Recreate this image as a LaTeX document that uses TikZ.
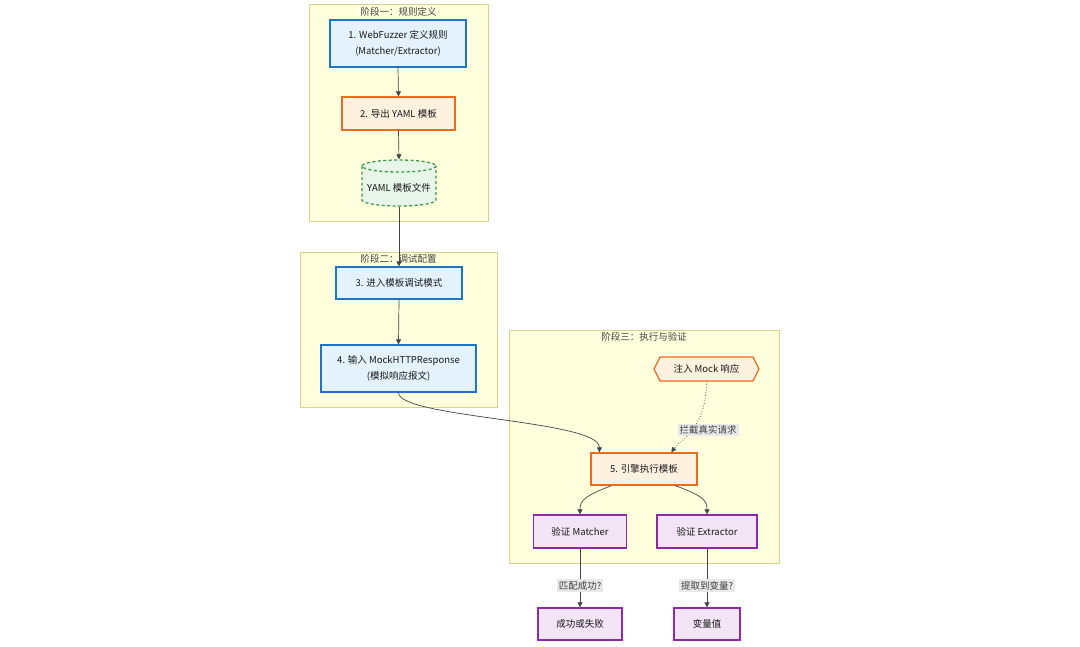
\documentclass[tikz,border=0pt]{standalone}
\usepackage{fontspec}
\setmainfont{Noto Sans CJK SC}
\usetikzlibrary{arrows.meta,calc}
\definecolor{clfill}{HTML}{FFFFDE}
\definecolor{cldraw}{HTML}{D4D48A}
\definecolor{bfill}{HTML}{E3F2FD}
\definecolor{bdraw}{HTML}{1E74C8}
\definecolor{ofill}{HTML}{FFF1E0}
\definecolor{odraw}{HTML}{EE6A1C}
\definecolor{gfill}{HTML}{E8F5E9}
\definecolor{gdraw}{HTML}{3E9A44}
\definecolor{pfill}{HTML}{F3E5F5}
\definecolor{pdraw}{HTML}{8E2AAA}
\definecolor{edge}{HTML}{444444}
\definecolor{lbl}{HTML}{E8E8E8}
\tikzset{
  cluster/.style={draw=cldraw,fill=clfill,line width=0.9pt},
  cltitle/.style={text=black!75,font=\fontsize{9.5}{11}\selectfont,inner sep=0pt},
  box/.style={rectangle,line width=1.3pt,align=center,inner sep=0pt,font=\fontsize{9.5}{16}\selectfont,text=black!90},
  bluebox/.style={box,draw=bdraw,fill=bfill},
  orangebox/.style={box,draw=odraw,fill=ofill},
  purplebox/.style={box,draw=pdraw,fill=pfill},
  plain/.style={box,draw=none,fill=none},
  conn/.style={draw=edge,line width=0.7pt,-{Triangle[length=5pt,width=5pt]}},
  elabel/.style={fill=lbl,text=black!75,inner sep=2pt,font=\fontsize{9.5}{11}\selectfont},
  cylline/.style={gdraw,line width=1.3pt,dash pattern=on 3pt off 2.5pt},
}
\begin{document}
\begin{tikzpicture}[x=1pt,y=-1pt]
\useasboundingbox (0,0) rectangle (1080,646);
\fill[white] (0,0) rectangle (1080,646);
% clusters
\draw[cluster] (309,4) rectangle (488,221);
\node[cltitle] (t1) at (398.5,12) {阶段一：规则定义};
\draw[cluster] (300,252) rectangle (497,407);
\node[cltitle] (t2) at (398.5,259) {阶段二：调试配置};
\draw[cluster] (509,330) rectangle (779,563);
\node[cltitle] (t3) at (644,337) {阶段三：执行与验证};
% nodes
\node[bluebox,minimum width=136pt,minimum height=47pt] (n1) at (398,43.5) {1. WebFuzzer 定义规则\\(Matcher/Extractor)};
\node[orangebox,minimum width=113pt,minimum height=33pt] (n2) at (398.5,113.5) {2. 导出 YAML 模板};
% cylinder
\node[plain,minimum width=74pt,minimum height=46pt] (cyl) at (399,183) {};
\fill[gfill] (362,166) rectangle (436,200);
\fill[gfill] (399,200) ellipse[x radius=37,y radius=6];
\fill[gfill] (399,166) ellipse[x radius=37,y radius=6];
\draw[cylline] (362,166) -- (362,200)
   arc[start angle=180,end angle=0,x radius=37,y radius=6] -- (436,166);
\draw[cylline] (399,166) ellipse[x radius=37,y radius=6];
\node[plain] (cyltext) at (399,188) {YAML 模板文件};
\node[bluebox,minimum width=126pt,minimum height=32pt] (n3) at (399,283) {3. 进入模板调试模式};
\node[bluebox,minimum width=155pt,minimum height=47pt] (n4) at (398.5,368.5) {4. 输入 MockHTTPResponse\\(模拟响应报文)};
% hexagon
\node[plain,minimum width=105pt,minimum height=24pt] (hex) at (706.5,369) {};
\fill[ofill] (654,369) -- (660,357) -- (753,357) -- (759,369) -- (753,381) -- (660,381) -- cycle;
\draw[odraw,line width=1.3pt,line join=round] (654,369) -- (660,357) -- (753,357) -- (759,369) -- (753,381) -- (660,381) -- cycle;
\node[plain] (hextext) at (hex) {注入 Mock 响应};
\node[orangebox,minimum width=106pt,minimum height=32pt] (n5) at (644,469) {5. 引擎执行模板};
\node[purplebox,minimum width=93pt,minimum height=33pt] (vm) at (580,531.5) {验证 Matcher};
\node[purplebox,minimum width=100pt,minimum height=33pt] (ve) at (707,531.5) {验证 Extractor};
\node[purplebox,minimum width=84pt,minimum height=32pt] (ok) at (580,624) {成功或失败};
\node[purplebox,minimum width=66pt,minimum height=32pt] (var) at (707,624) {变量值};
% connectors
\draw[conn] (n1.south) -- (n2.north);
\draw[conn] (n2.south) -- (cyl.north);
\draw[conn] (cyl.south) -- (n3.north);
\draw[conn] (n3.south) -- (n4.north);
\coordinate (e5a) at ($(n5.north west)+(9,0)$);
\draw[conn] (n4.south) .. controls (399,418) and (600,420) .. (e5a);
\coordinate (e5b) at ($(n5.north west)+(81,0)$);
\draw[conn,dotted,line width=0.8pt] (hex.south) .. controls (706,430) and (680,440) .. (e5b);
\node[elabel] (l1) at (708,430) {拦截真实请求};
\coordinate (s5a) at ($(n5.south west)+(21,0)$);
\coordinate (s5b) at ($(n5.south west)+(85,0)$);
\draw[conn] (s5a) .. controls (585,496) and (580,500) .. (vm.north);
\draw[conn] (s5b) .. controls (703,496) and (707,500) .. (ve.north);
\draw[conn] (vm.south) -- (ok.north) node[elabel,pos=0.63] (l2) {匹配成功?};
\draw[conn] (ve.south) -- (var.north) node[elabel,pos=0.63] (l3) {提取到变量?};
\end{tikzpicture}
\end{document}
